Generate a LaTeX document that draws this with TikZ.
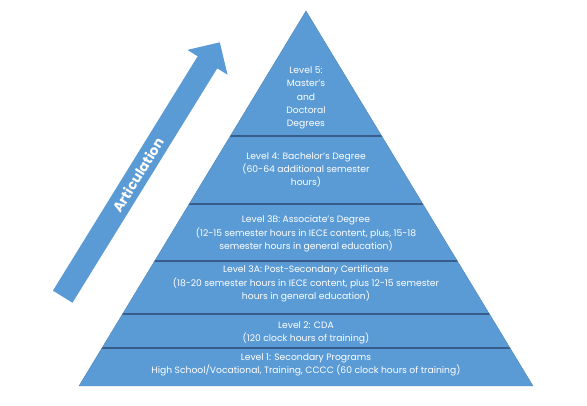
\documentclass[tikz,border=0pt]{standalone}
\usepackage{fontspec}
\setmainfont{Poppins}
\definecolor{pyrblue}{RGB}{91,155,213}
\definecolor{pyrline}{RGB}{56,93,138}

\begin{document}
\begin{tikzpicture}[x=0.75pt, y=0.75pt, lvl/.style={text=white, align=center, inner sep=0, font=\fontsize{6.9}{10}\selectfont}]
        \useasboundingbox (0,0) rectangle (587,406);
        % pyramid
        \fill[pyrblue] (79,20) -- (306,395) -- (533,20) -- cycle;
        \begin{scope}
            \clip (79,20) -- (306,395) -- (533,20) -- cycle;
            \foreach \h in {270,202,145,92,58}
                \draw[pyrline, line width=1pt] (60,\h) -- (560,\h);
        \end{scope}
        \draw[pyrblue!85!black, line width=0.3pt] (79,20) -- (306,395) -- (533,20) -- cycle;
        % levels
        \node [lvl] (l5) at (306,308) {Level 5:\\Master's\\and\\Doctoral\\Degrees};
        \node [lvl] (l4) at (306,236) {Level 4: Bachelor's Degree\\(60-64 additional semester\\hours)};
        \node [lvl] (l3b) at (306,172) {Level 3B: Associate's Degree\\(12-15 semester hours in IECE content, plus, 15-18\\semester hours in general education)};
        \node [lvl] (l3a) at (306,122) {Level 3A: Post-Secondary Certificate\\(18-20 semester hours in IECE content, plus 12-15 semester\\hours in general education)};
        \node [lvl] (l2) at (306,73) {Level 2: CDA\\(120 clock hours of training)};
        \node [lvl] (l1) at (306,41) {Level 1: Secondary Programs\\High School/Vocational, Training, CCCC (60 clock hours of training)};
        % articulation arrow
        \begin{scope}[shift={(62.7,109.3)}, rotate=58.3]
            \fill[pyrblue] (0,-11.5) -- (275.5,-11.5) -- (275.5,-23.6) -- (299,0) -- (275.5,23.6) -- (275.5,11.5) -- (0,11.5) -- cycle;
            \node [lvl, rotate=58.3, font=\bfseries\fontsize{10.3}{12}\selectfont] (artic) at (143,0) {Articulation};
        \end{scope}
\end{tikzpicture}
\end{document}
